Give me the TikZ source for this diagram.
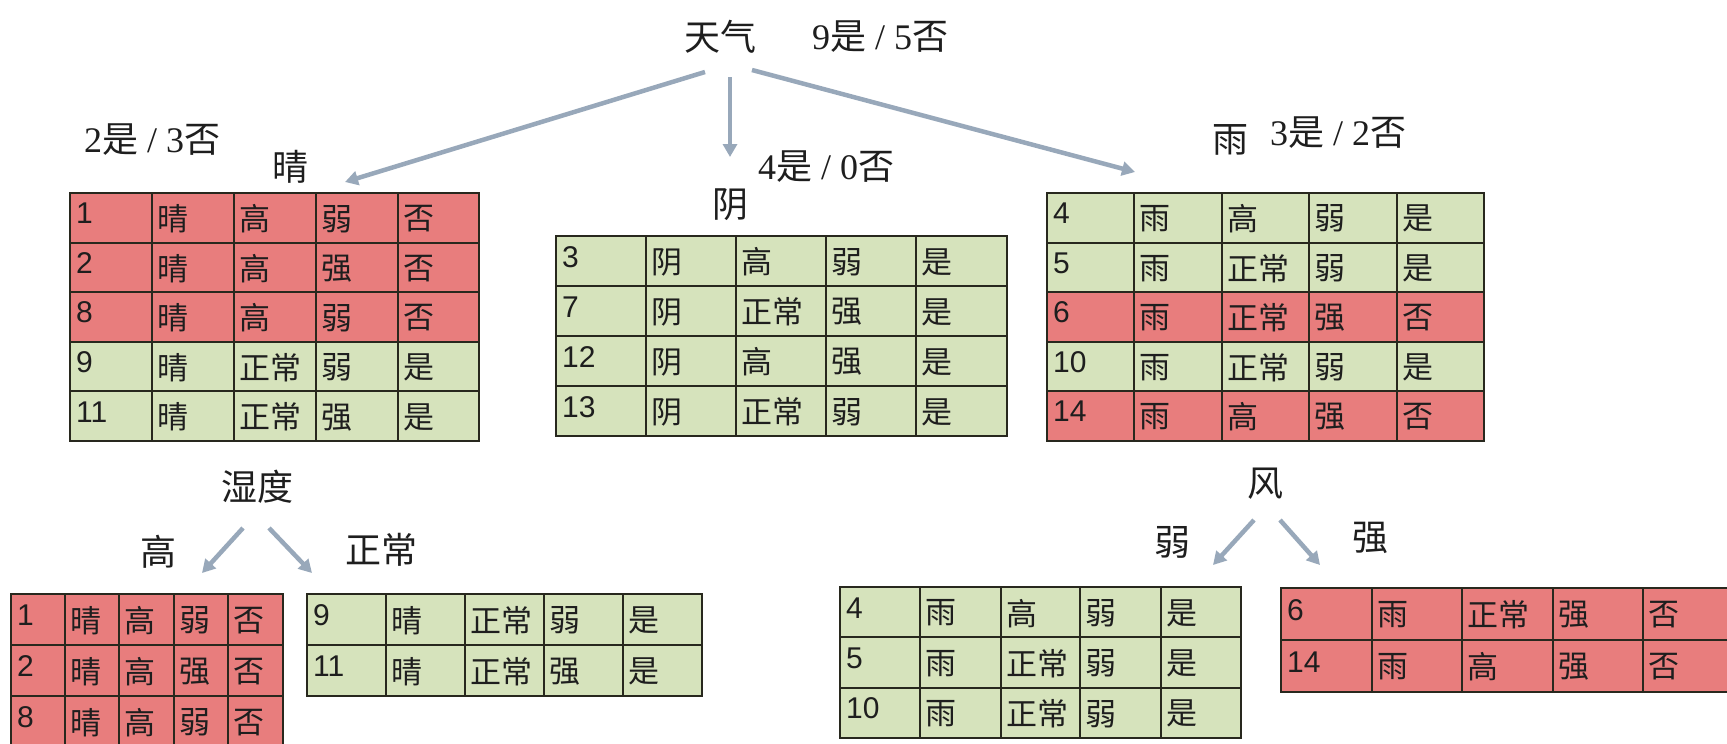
\documentclass[tikz,border=0pt]{standalone}
\usepackage{fontspec}
\setmainfont{Liberation Serif}
\newfontfamily\cjk{Noto Sans CJK SC}
\newfontfamily\arialf{Liberation Sans}
\usetikzlibrary{arrows.meta}
\definecolor{redc}{RGB}{232,125,125}
\definecolor{greenc}{RGB}{214,227,188}
\definecolor{arrc}{RGB}{152,168,186}
\definecolor{linec}{RGB}{40,40,30}
\definecolor{txtc}{RGB}{30,30,30}
\newcommand\zh[1]{{\cjk #1}}
\newcommand\datatable[9]{%
  \foreach \clr/\n/\ta/\tb/\tc/\td [count=\i from 0] in {#9} {%
    \pgfmathsetmacro\yt{#7+\i*#8}%
    \pgfmathsetmacro\yb{#7+(\i+1)*#8}%
    \pgfmathsetmacro\ym{#7+(\i+0.52)*#8}%
    \pgfmathsetmacro\ybase{#7+(\i+0.62)*#8}%
    \fill[fill=\clr] (#1,\yt) rectangle (#6,\yb);
    \draw[gridl] (#1,\yt) rectangle (#6,\yb);
    \draw[gridl] (#2,\yt) -- (#2,\yb) (#3,\yt) -- (#3,\yb) (#4,\yt) -- (#4,\yb) (#5,\yt) -- (#5,\yb);
    \node[numtxt] (\tn-\i-0) at (#1+6,\ybase) {\n};
    \node[zhtxt] (\tn-\i-1) at (#2+5,\ym) {\ta};
    \node[zhtxt] (\tn-\i-2) at (#3+5,\ym) {\tb};
    \node[zhtxt] (\tn-\i-3) at (#4+5,\ym) {\tc};
    \node[zhtxt] (\tn-\i-4) at (#5+5,\ym) {\td};
  }%
}
\begin{document}
\begin{tikzpicture}[x=1pt,y=-1pt,
  arr/.style={draw=arrc,line width=4.5pt,-{Triangle[length=13pt,width=14pt]}},
  lbl/.style={font=\fontsize{36}{40}\selectfont, text=txtc, inner sep=0pt},
  numtxt/.style={font=\arialf\fontsize{30}{33}\selectfont, anchor=base west, inner sep=0pt, text=txtc},
  zhtxt/.style={font=\cjk\fontsize{31}{34}\selectfont, anchor=west, inner sep=0pt, text=txtc},
  gridl/.style={draw=linec, line width=2pt}]
\useasboundingbox (0,0) rectangle (1727,744);
\clip (0,0) rectangle (1727,744);
\fill[white] (0,0) rectangle (1727,744);

% labels
\node[lbl] (root) at (720,37) {\zh{天气}};
\node[lbl,anchor=west] (rootcnt) at (812,37) {9\zh{是} / 5\zh{否}};
\node[lbl,anchor=west] (suncnt) at (84,140) {2\zh{是} / 3\zh{否}};
\node[lbl] (sun) at (290,167) {\zh{晴}};
\node[lbl,anchor=west] (ovcnt) at (758,167) {4\zh{是} / 0\zh{否}};
\node[lbl] (ov) at (730,205) {\zh{阴}};
\node[lbl] (rain) at (1230,140) {\zh{雨}};
\node[lbl,anchor=west] (raincnt) at (1270,133) {3\zh{是} / 2\zh{否}};
\node[lbl] (hum) at (257,487) {\zh{湿度}};
\node[lbl] (humhi) at (158,552) {\zh{高}};
\node[lbl] (humno) at (381,550) {\zh{正常}};
\node[lbl] (wind) at (1265,484) {\zh{风}};
\node[lbl] (windw) at (1172,542) {\zh{弱}};
\node[lbl] (winds) at (1370,538) {\zh{强}};

% arrows
\coordinate (aL0) at (705,72); \coordinate (aL1) at (345,182);
\coordinate (aM0) at (730,77); \coordinate (aM1) at (730,157);
\coordinate (aR0) at (752,70); \coordinate (aR1) at (1135,172);
\coordinate (hL0) at (243,528); \coordinate (hL1) at (202,573);
\coordinate (hR0) at (269,528); \coordinate (hR1) at (312,573);
\coordinate (wL0) at (1254,520); \coordinate (wL1) at (1213,565);
\coordinate (wR0) at (1280,520); \coordinate (wR1) at (1320,565);
\draw[arr] (aL0) -- (aL1);
\draw[arr] (aM0) -- (aM1);
\draw[arr] (aR0) -- (aR1);
\draw[arr] (hL0) -- (hL1);
\draw[arr] (hR0) -- (hR1);
\draw[arr] (wL0) -- (wL1);
\draw[arr] (wR0) -- (wR1);

% tables
\def\tn{ta}
\datatable{70}{152}{234}{316}{398}{479}{193}{49.6}{redc/1/晴/高/弱/否,redc/2/晴/高/强/否,redc/8/晴/高/弱/否,greenc/9/晴/正常/弱/是,greenc/11/晴/正常/强/是}
\def\tn{tb}
\datatable{556}{646}{736}{826}{916}{1007}{236}{50}{greenc/3/阴/高/弱/是,greenc/7/阴/正常/强/是,greenc/12/阴/高/强/是,greenc/13/阴/正常/弱/是}
\def\tn{tc}
\datatable{1047}{1134}{1222}{1309}{1397}{1484}{193}{49.5}{greenc/4/雨/高/弱/是,greenc/5/雨/正常/弱/是,redc/6/雨/正常/强/否,greenc/10/雨/正常/弱/是,redc/14/雨/高/强/否}
\def\tn{td}
\datatable{11}{65}{119}{174}{228}{283}{594}{51}{redc/1/晴/高/弱/否,redc/2/晴/高/强/否,redc/8/晴/高/弱/否}
\def\tn{te}
\datatable{307}{386}{465}{544}{623}{702}{594}{51}{greenc/9/晴/正常/弱/是,greenc/11/晴/正常/强/是}
\def\tn{tf}
\datatable{840}{920}{1001}{1080}{1161}{1241}{587}{50.3}{greenc/4/雨/高/弱/是,greenc/5/雨/正常/弱/是,greenc/10/雨/正常/弱/是}
\def\tn{tg}
\datatable{1281}{1372}{1462}{1553}{1643}{1734}{588}{52}{redc/6/雨/正常/强/否,redc/14/雨/高/强/否}
\end{tikzpicture}
\end{document}
